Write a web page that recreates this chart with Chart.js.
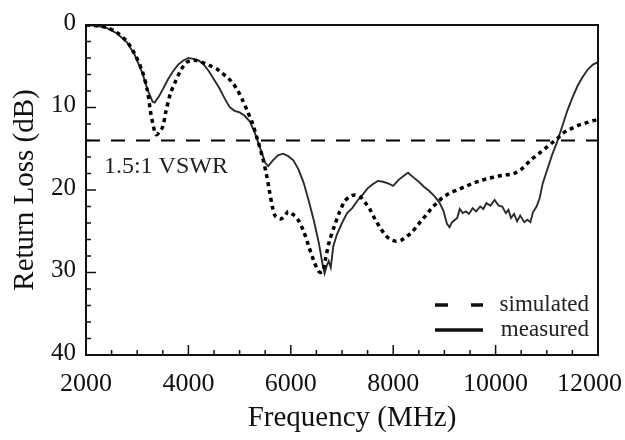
<!DOCTYPE html>
<html>
<head>
<meta charset="utf-8">
<script src="https://cdn.jsdelivr.net/npm/chart.js@4.4.1/dist/chart.umd.min.js"></script>
<style>
  html, body { margin: 0; padding: 0; background: #fff; }
  #wrap { width: 625px; height: 440px; }
</style>
</head>
<body>
<div id="wrap"><canvas id="chart" width="625" height="440"></canvas></div>
<script>
// simulated return loss (dB) vs frequency (MHz)
const simFreq = [2000, 2200, 2400, 2600, 2800, 2950, 3100, 3200, 3260, 3310, 3370, 3430, 3500, 3560, 3650, 3750, 3850, 3950, 4050, 4150, 4250, 4350, 4450, 4550, 4650, 4750, 4850, 4950, 5050, 5150, 5250, 5350, 5450, 5520, 5580, 5640, 5700, 5800, 5880, 5950, 6050, 6150, 6250, 6350, 6450, 6550, 6620, 6680, 6750, 6850, 6950, 7050, 7150, 7250, 7350, 7450, 7550, 7650, 7750, 7850, 7950, 8050, 8150, 8250, 8350, 8450, 8550, 8650, 8750, 8850, 8950, 9100, 9250, 9400, 9550, 9700, 9850, 10000, 10150, 10300, 10400, 10500, 10600, 10700, 10800, 10900, 11000, 11100, 11200, 11300, 11400, 11500, 11600, 11700, 11800, 11900, 12000];
const simLoss = [0.0, 0.1, 0.3, 0.9, 2.0, 3.5, 5.6, 8.0, 10.5, 12.1, 13.3, 13.0, 12.3, 10.5, 8.3, 6.8, 5.5, 4.6, 4.3, 4.3, 4.5, 4.7, 5.0, 5.3, 5.8, 6.3, 6.9, 7.8, 9.0, 10.4, 11.9, 13.9, 16.1, 18.0, 20.0, 22.0, 23.2, 23.5, 23.2, 22.6, 23.0, 23.7, 25.0, 26.8, 28.6, 29.9, 29.9, 28.3, 26.3, 24.4, 22.7, 21.4, 20.8, 20.6, 20.8, 21.5, 22.4, 23.6, 24.6, 25.5, 26.0, 26.2, 26.1, 25.7, 25.2, 24.5, 23.7, 23.0, 22.2, 21.6, 21.0, 20.4, 20.0, 19.6, 19.2, 18.9, 18.6, 18.4, 18.2, 18.1, 17.9, 17.5, 16.9, 16.3, 15.8, 15.3, 14.8, 14.3, 13.8, 13.2, 12.8, 12.5, 12.2, 12.0, 11.8, 11.6, 11.5];

// measured return loss (dB) vs frequency (MHz)
const measFreq = [2000, 2200, 2400, 2600, 2800, 2950, 3100, 3200, 3300, 3340, 3420, 3500, 3600, 3700, 3800, 3900, 4000, 4100, 4200, 4300, 4400, 4500, 4600, 4700, 4800, 4900, 5000, 5100, 5200, 5300, 5400, 5500, 5560, 5650, 5750, 5850, 5950, 6050, 6150, 6250, 6350, 6450, 6550, 6620, 6660, 6700, 6740, 6780, 6830, 6900, 7000, 7100, 7200, 7300, 7400, 7500, 7600, 7700, 7800, 7900, 8000, 8100, 8200, 8290, 8400, 8500, 8600, 8700, 8800, 8900, 8980, 9050, 9100, 9150, 9250, 9300, 9360, 9420, 9480, 9550, 9620, 9700, 9760, 9820, 9900, 9980, 10060, 10130, 10200, 10250, 10300, 10360, 10420, 10480, 10560, 10620, 10680, 10730, 10800, 10860, 10920, 11000, 11100, 11200, 11300, 11400, 11500, 11600, 11700, 11800, 11900, 12000];
const measLoss = [0.0, 0.1, 0.35, 1.0, 2.1, 3.6, 5.8, 7.8, 9.3, 9.4, 8.7, 7.8, 6.6, 5.6, 4.8, 4.3, 4.0, 4.1, 4.3, 4.8, 5.6, 6.6, 7.6, 8.8, 9.9, 10.4, 10.6, 11.0, 11.7, 13.1, 14.9, 16.7, 17.1, 16.4, 15.8, 15.6, 15.9, 16.4, 17.5, 19.1, 21.3, 23.7, 26.5, 29.0, 30.1, 29.2, 28.6, 29.4, 26.8, 25.4, 24.0, 22.8, 22.2, 21.3, 20.6, 19.8, 19.3, 18.9, 19.0, 19.2, 19.5, 18.8, 18.3, 17.9, 18.5, 19.0, 19.6, 20.1, 20.7, 21.5, 22.5, 24.1, 24.5, 23.9, 23.4, 22.3, 22.8, 22.6, 22.9, 22.2, 22.6, 22.0, 22.3, 21.6, 21.9, 21.2, 21.9, 22.0, 22.8, 22.4, 23.4, 22.9, 23.8, 23.1, 23.9, 23.6, 23.9, 22.7, 22.0, 21.0, 19.2, 17.7, 15.8, 14.2, 12.3, 10.4, 8.8, 7.4, 6.3, 5.4, 4.8, 4.5];

// 1.5:1 VSWR reference level
const vswrFreq = [2000, 12000];
const vswrLoss = [14, 14];
const vswrLabel = '1.5:1 VSWR';
const vswrLabelAt = [2350, 17.2];

const seriesNames = ['simulated', 'measured'];
const xTickLabels = [2000, 4000, 6000, 8000, 10000, 12000];
const yTickLabels = [0, 10, 20, 30, 40];
const xTitle = 'Frequency (MHz)';
const yTitle = 'Return Loss (dB)';

const serif = "'Liberation Serif', 'Times New Roman', serif";
const ink = '#111';

function toPoints(xs, ys) {
    return xs.map((x, i) => ({ x: x, y: ys[i] }));
}

// frame, inner tick marks, x tick labels and title, text label and legend
const decorations = {
    id: 'decorations',
    afterDraw(chart) {
        const ctx = chart.ctx;
        const area = chart.chartArea;
        const xs = chart.scales.x;
        const ys = chart.scales.y;
        ctx.save();
        ctx.strokeStyle = ink;
        ctx.lineWidth = 2;
        ctx.setLineDash([]);
        ctx.strokeRect(area.left, area.top, area.right - area.left, area.bottom - area.top);

        ctx.lineWidth = 1.5;
        ctx.fillStyle = ink;
        ctx.font = '26px ' + serif;
        ctx.textAlign = 'center';
        ctx.textBaseline = 'middle';
        xs.ticks.forEach(t => {
            const px = xs.getPixelForValue(t.value);
            const major = xTickLabels.includes(t.value);
            ctx.beginPath();
            ctx.moveTo(px, area.bottom);
            ctx.lineTo(px, area.bottom - (major ? 10 : 5));
            ctx.stroke();
            if (major) {
                const txt = String(t.value);
                const w = ctx.measureText(txt).width;
                const cx = Math.min(px, chart.width - 3 - w / 2);
                ctx.fillText(txt, cx, area.bottom + 29);
            }
        });
        ys.ticks.forEach(t => {
            const py = ys.getPixelForValue(t.value);
            const len = yTickLabels.includes(t.value) ? 10 : 5;
            ctx.beginPath();
            ctx.moveTo(area.left, py);
            ctx.lineTo(area.left + len, py);
            ctx.stroke();
        });

        ctx.font = '29px ' + serif;
        ctx.fillText(xTitle, (area.left + area.right) / 2 + 10, area.bottom + 63);

        ctx.fillStyle = '#222';
        ctx.font = '24px ' + serif;
        ctx.textAlign = 'left';
        ctx.fillText(vswrLabel, xs.getPixelForValue(vswrLabelAt[0]), ys.getPixelForValue(vswrLabelAt[1]));

        // legend
        const ds = chart.data.datasets;
        const rows = [305, 330];
        ctx.font = '23px ' + serif;
        ctx.textAlign = 'right';
        [0, 1].forEach(i => {
            const y = rows[i];
            ctx.beginPath();
            ctx.lineWidth = 3.5;
            ctx.strokeStyle = ink;
            ctx.setLineDash(i === 0 ? [13, 23] : []);
            ctx.moveTo(area.right - 163, y);
            ctx.lineTo(area.right - 115, y);
            ctx.stroke();
            ctx.setLineDash([]);
            ctx.fillStyle = '#222';
            ctx.fillText(ds[i].label, area.right - 9, y);
        });
        ctx.restore();
    }
};

new Chart(document.getElementById('chart'), {
    type: 'line',
    data: {
        datasets: [
            {
                label: seriesNames[0],
                data: toPoints(simFreq, simLoss),
                borderColor: '#000',
                borderWidth: 3.5,
                borderDash: [4, 4],
                pointRadius: 0,
                tension: 0.3,
                fill: false
            },
            {
                label: seriesNames[1],
                data: toPoints(measFreq, measLoss),
                borderColor: '#2b2b2b',
                borderWidth: 1.9,
                pointRadius: 0,
                tension: 0,
                fill: false
            },
            {
                label: vswrLabel,
                data: toPoints(vswrFreq, vswrLoss),
                borderColor: '#000',
                borderWidth: 2,
                borderDash: [14, 11],
                pointRadius: 0,
                fill: false
            }
        ]
    },
    options: {
        responsive: false,
        animation: false,
        devicePixelRatio: 1,
        layout: { padding: { top: 14, right: 27, left: 0, bottom: 0 } },
        plugins: {
            legend: { display: false },
            tooltip: { enabled: false }
        },
        scales: {
            x: {
                type: 'linear',
                min: 2000,
                max: 12000,
                grid: { display: false, drawTicks: false },
                border: { display: false },
                ticks: {
                    display: false,
                    stepSize: 500,
                    autoSkip: false
                },
                afterFit: s => { s.height = 85; s.paddingLeft = 0; s.paddingRight = 0; }
            },
            y: {
                type: 'linear',
                min: 0,
                max: 40,
                reverse: true,
                grid: { display: false, drawTicks: false },
                border: { display: false },
                ticks: {
                    stepSize: 2,
                    autoSkip: false,
                    padding: 10,
                    labelOffset: -2,
                    color: ink,
                    font: { family: serif, size: 25 },
                    callback: v => yTickLabels.includes(v) ? String(v) : ''
                },
                title: {
                    display: true,
                    text: yTitle,
                    color: ink,
                    font: { family: serif, size: 29 },
                    padding: { top: 8, bottom: 0 }
                },
                afterFit: s => { s.width = 86; }
            }
        }
    },
    plugins: [decorations]
});
</script>
</body>
</html>
